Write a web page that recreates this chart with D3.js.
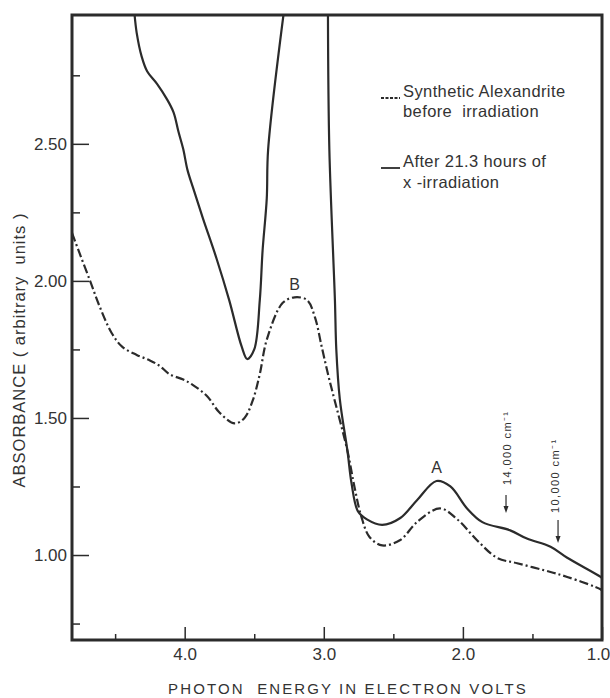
<!DOCTYPE html>
<html>
<head>
<meta charset="utf-8">
<script src="https://cdn.jsdelivr.net/npm/d3@7"></script>
<style>
  html, body { margin: 0; padding: 0; background: #fff; }
  svg { display: block; }
  text { font-family: "Liberation Sans", Arial, sans-serif; fill: #333; }
</style>
</head>
<body>
<svg id="chart" width="610" height="698"></svg>
<script>
// ---- data ----
// After 21.3 hours of x-irradiation (solid). Left branch and right branch; the peak between them is off scale.
const afterLeftEnergy = [4.36, 4.345, 4.31, 4.27, 4.20, 4.13, 4.08, 4.045, 4.01, 3.98, 3.94, 3.87, 3.77, 3.68, 3.59, 3.55, 3.50, 3.46, 3.44, 3.41, 3.40, 3.29];
const afterLeftAbs    = [2.97, 2.905, 2.82, 2.765, 2.72, 2.665, 2.615, 2.545, 2.48, 2.405, 2.34, 2.23, 2.08, 1.93, 1.76, 1.715, 1.75, 1.93, 2.11, 2.30, 2.48, 2.97];
const afterRightEnergy = [2.97, 2.96, 2.92, 2.91, 2.885, 2.83, 2.80, 2.755, 2.69, 2.58, 2.45, 2.33, 2.19, 2.09, 1.97, 1.86, 1.66, 1.54, 1.37, 1.25, 1.01, 1.00];
const afterRightAbs    = [2.97, 2.48, 1.93, 1.75, 1.57, 1.38, 1.26, 1.16, 1.13, 1.11, 1.135, 1.20, 1.27, 1.25, 1.17, 1.12, 1.09, 1.06, 1.03, 0.99, 0.92, 0.915];
// Synthetic Alexandrite before irradiation (dash-dot)
const beforeEnergy = [4.81, 4.755, 4.68, 4.61, 4.525, 4.45, 4.345, 4.25, 4.18, 4.11, 4.01, 3.94, 3.84, 3.75, 3.64, 3.57, 3.51, 3.46, 3.41, 3.295, 3.21, 3.12, 3.065, 3.015, 2.97, 2.935, 2.83, 2.78, 2.73, 2.67, 2.58, 2.45, 2.33, 2.165, 2.04, 1.90, 1.755, 1.61, 1.42, 1.25, 1.01, 1.00];
const beforeAbs    = [2.175, 2.10, 2.00, 1.905, 1.81, 1.76, 1.73, 1.71, 1.69, 1.66, 1.64, 1.62, 1.58, 1.52, 1.48, 1.50, 1.565, 1.66, 1.785, 1.92, 1.94, 1.93, 1.87, 1.76, 1.66, 1.59, 1.38, 1.25, 1.14, 1.065, 1.035, 1.055, 1.12, 1.17, 1.13, 1.055, 0.99, 0.97, 0.945, 0.92, 0.875, 0.87];

const xTicks = [4.0, 3.0, 2.0, 1.0];
const xMinorTicks = [4.5, 3.5, 2.5, 1.5];
const yTicks = [1.00, 1.50, 2.00, 2.50];
const yMinorTicks = [0.75, 1.25, 1.75, 2.25, 2.75];

const peakLabels = ["B", "A"];
const peakEnergy = [3.21, 2.19];
const peakAbs = [1.965, 1.30];

const markerLabels = ["14,000 cm\u207B\u00B9", "10,000 cm\u207B\u00B9"];
const markerEnergy = [1.69, 1.316];
const markerTipAbs = [1.153, 1.044];   // arrow tip positions
const markerTailAbs = [1.219, 1.128];  // arrow tail positions

const legendLabels = [["Synthetic Alexandrite", "before  irradiation"], ["After 21.3 hours of", "x -irradiation"]];

// ---- layout ----
const svg = d3.select("#chart");
const mLeft = 72, mRight = 602, mTop = 15, mBottom = 640;
const x = d3.scaleLinear().domain([4.81, 1.0]).range([mLeft, mRight]);
const y = d3.scaleLinear().domain([0.69, 2.97]).range([mBottom, mTop]);
const ink = "#2b2b2b";

svg.append("clipPath").attr("id", "clip").append("rect")
  .attr("x", mLeft).attr("y", mTop).attr("width", mRight - mLeft).attr("height", mBottom - mTop);

// Axes (inward ticks)
const yAxis = d3.axisLeft(y).tickValues(yTicks).tickFormat(d3.format(".2f")).tickSizeInner(-17).tickSizeOuter(0).tickPadding(5);
const gy = svg.append("g").attr("transform", `translate(${mLeft},0)`).call(yAxis);
gy.select(".domain").remove();
gy.selectAll("line").attr("stroke", ink).attr("stroke-width", 1.5);
gy.selectAll("text").attr("font-size", 17).attr("fill", "#444");

const yMinor = d3.axisLeft(y).tickValues(yMinorTicks).tickFormat("").tickSizeInner(-8).tickSizeOuter(0);
const gym = svg.append("g").attr("transform", `translate(${mLeft},0)`).call(yMinor);
gym.select(".domain").remove();
gym.selectAll("line").attr("stroke", ink).attr("stroke-width", 1.5);

const xAxis = d3.axisBottom(x).tickValues(xTicks).tickFormat(d3.format(".1f")).tickSizeInner(-13).tickSizeOuter(0).tickPadding(8);
const gx = svg.append("g").attr("transform", `translate(0,${mBottom})`).call(xAxis);
gx.select(".domain").remove();
gx.selectAll("line").attr("stroke", ink).attr("stroke-width", 1.5);
gx.selectAll("text").attr("font-size", 17).attr("fill", "#444")
  .attr("dx", d => d === 1.0 ? -4 : 0);

const xMinor = d3.axisBottom(x).tickValues(xMinorTicks).tickFormat("").tickSizeInner(-6).tickSizeOuter(0);
const gxm = svg.append("g").attr("transform", `translate(0,${mBottom})`).call(xMinor);
gxm.select(".domain").remove();
gxm.selectAll("line").attr("stroke", ink).attr("stroke-width", 1.5);

// Frame
svg.append("rect").attr("x", mLeft).attr("y", mTop).attr("width", mRight - mLeft).attr("height", mBottom - mTop)
  .attr("fill", "none").attr("stroke", ink).attr("stroke-width", 3);

// Curves
const line = d3.line().x(d => x(d[0])).y(d => y(d[1])).curve(d3.curveCatmullRom.alpha(0.5));
const plot = svg.append("g").attr("clip-path", "url(#clip)");

plot.append("path").datum(d3.zip(beforeEnergy, beforeAbs)).attr("d", line)
  .attr("fill", "none").attr("stroke", ink).attr("stroke-width", 2.2).attr("stroke-dasharray", "9,3,2,3");
plot.append("path").datum(d3.zip(afterLeftEnergy, afterLeftAbs)).attr("d", line)
  .attr("fill", "none").attr("stroke", ink).attr("stroke-width", 2.2);
plot.append("path").datum(d3.zip(afterRightEnergy, afterRightAbs)).attr("d", line)
  .attr("fill", "none").attr("stroke", ink).attr("stroke-width", 2.2);

// Peak labels
svg.selectAll(".peak").data(peakLabels).join("text").attr("class", "peak")
  .attr("x", (d, i) => x(peakEnergy[i])).attr("y", (d, i) => y(peakAbs[i]))
  .attr("text-anchor", "middle").attr("font-size", 16).text(d => d);

// Wavenumber markers (arrows + rotated labels)
markerLabels.forEach((lab, i) => {
  const mx = x(markerEnergy[i]), tipY = y(markerTipAbs[i]), tailY = y(markerTailAbs[i]);
  svg.append("line").attr("x1", mx).attr("x2", mx).attr("y1", tailY).attr("y2", tipY - 4)
    .attr("stroke", ink).attr("stroke-width", 1.2);
  svg.append("path").attr("d", `M${mx - 2.5},${tipY - 7}L${mx + 2.5},${tipY - 7}L${mx},${tipY}Z`).attr("fill", ink);
  svg.append("text").attr("transform", `translate(${mx + (i === 0 ? 5 : 1)},${tailY - (i === 0 ? 10 : 7)}) rotate(-90)`)
    .attr("font-size", 11).attr("letter-spacing", 1.4).attr("fill", "#555").text(lab);
});

// Legend
const legX1 = 381, legX2 = 400, legTextX = 403;
svg.append("line").attr("x1", legX1).attr("x2", legX2).attr("y1", 98).attr("y2", 98)
  .attr("stroke", ink).attr("stroke-width", 1.8).attr("stroke-dasharray", "3,1.5");
svg.append("line").attr("x1", legX1).attr("x2", legX2).attr("y1", 168).attr("y2", 168)
  .attr("stroke", ink).attr("stroke-width", 1.8);
const legY = [[97, 117], [167, 188]];
legendLabels.forEach((lines, i) => {
  lines.forEach((t, j) => {
    svg.append("text").attr("x", legTextX).attr("y", legY[i][j]).attr("font-size", 16.5)
      .attr("letter-spacing", 0.4).style("white-space", "pre").text(t);
  });
});

// Axis titles
svg.append("text").attr("x", 348).attr("y", 694).attr("text-anchor", "middle")
  .attr("font-size", 15).attr("letter-spacing", 2.1).attr("fill", "#444")
  .style("white-space", "pre").text("PHOTON  ENERGY IN ELECTRON VOLTS");
svg.append("text").attr("transform", "translate(25,350) rotate(-90)").attr("text-anchor", "middle")
  .attr("font-size", 16.5).attr("letter-spacing", 1).attr("fill", "#333")
  .style("white-space", "pre").text("ABSORBANCE ( arbitrary  units )");
</script>
</body>
</html>
